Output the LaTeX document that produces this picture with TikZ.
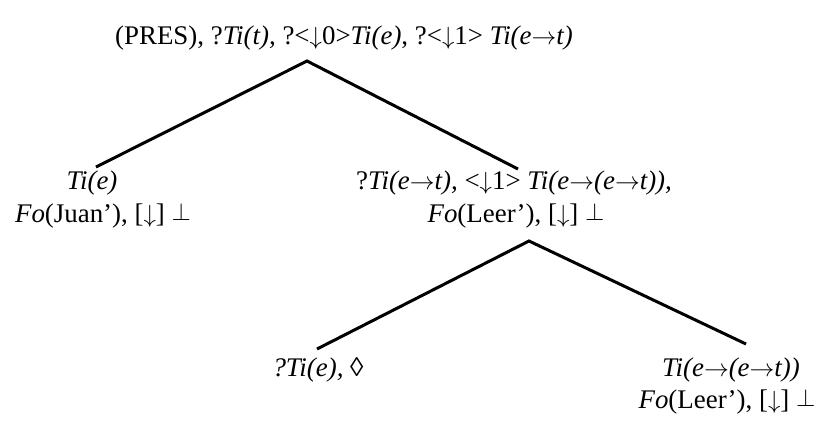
\documentclass[tikz,border=0pt]{standalone}
\usepackage{fontspec}
\setmainfont{Liberation Serif}
\newcommand{\dn}{$\downarrow$}
\newcommand{\ar}{$\rightarrow$}
\newcommand{\tackup}{\ \raisebox{2bp}{$\perp$}}
\begin{document}
\begin{tikzpicture}[x=1bp,y=-1bp,
  lbl/.style={anchor=base,inner sep=0pt,font=\fontsize{27}{31}\selectfont},
  edge/.style={line width=3bp}]
\useasboundingbox (0,0) rectangle (833,421);
\node[lbl] (top) at (344,44) {(PRES), ?\textit{Ti(t),} ?<\dn0>\textit{Ti(e)}, ?<\dn1> \textit{Ti(e\ar t)}};
\coordinate (ap1) at (307,61);
\coordinate (e1) at (96,167);
\coordinate (e2) at (518,169);
\node[lbl] (l1) at (92,189) {\textit{Ti(e)}};
\node[lbl] (l2) at (103,222) {\textit{Fo}(Juan’), [\dn]\tackup};
\node[lbl] (r1) at (514,189) {?\textit{Ti(e\ar t),} <\dn1> \textit{Ti(e\ar(e\ar t)),}};
\node[lbl] (r2) at (516,222) {\textit{Fo}(Leer’), [\dn]\tackup};
\coordinate (ap2) at (529,241);
\coordinate (e3) at (317,349);
\coordinate (e4) at (746,344);
\node[lbl] (b1) at (318,376) {\textit{?Ti(e),} ◊};
\node[lbl] (b2) at (731,376) {\textit{Ti(e\ar(e\ar t))}};
\node[lbl] (b3) at (727,408) {\textit{Fo}(Leer’), [\dn]\tackup};
\draw[edge] (e1) -- (ap1) -- (e2);
\draw[edge] (e3) -- (ap2) -- (e4);
\end{tikzpicture}
\end{document}
